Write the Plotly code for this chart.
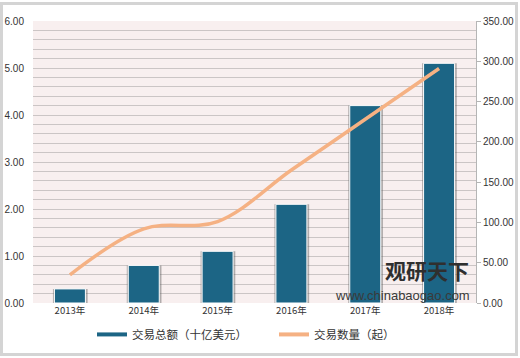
import plotly.graph_objects as go

years = ["2013年", "2014年", "2015年", "2016年", "2017年", "2018年"]
amount = [0.3, 0.8, 1.1, 2.1, 4.2, 5.1]          # 交易总额（十亿美元）
count = [35, 92, 101, 165, 228, 291]              # 交易数量（起）
left_ticks = [0, 1, 2, 3, 4, 5, 6]
right_ticks = [0, 50, 100, 150, 200, 250, 300, 350]

BAR = "#1c6585"
LINE = "#f5b183"
W, H = 520, 358
ML, MR, MT, MB = 33, 44, 21, 55
PW, PH = W - ML - MR, H - MT - MB

font_num = "Liberation Sans, Arial, sans-serif"
font_cjk = "Noto Sans CJK SC, sans-serif"

fig = go.Figure()
# soft shadow behind bars
fig.add_trace(go.Bar(x=years, y=amount, width=0.47, offset=-0.23,
                     marker=dict(color="rgba(90,90,90,0.45)", line=dict(width=0)),
                     showlegend=False, hoverinfo="skip"))
fig.add_trace(go.Bar(x=years, y=amount, width=0.42, offset=-0.21,
                     marker=dict(color=BAR, line=dict(color="white", width=1)),
                     name="交易总额（十亿美元）", showlegend=False))
fig.add_trace(go.Scatter(x=years, y=count, yaxis="y2", mode="lines",
                         line=dict(color=LINE, width=3.5, shape="spline", smoothing=1.0),
                         name="交易数量（起）", showlegend=False))
# legend entries (line symbols)
fig.add_trace(go.Scatter(x=[None], y=[None], mode="lines", line=dict(color=BAR, width=4),
                         name="交易总额（十亿美元）"))
fig.add_trace(go.Scatter(x=[None], y=[None], mode="lines", line=dict(color=LINE, width=4),
                         name="交易数量（起）", yaxis="y2"))

fig.update_layout(
    width=W, height=H,
    margin=dict(l=ML, r=MR, t=MT, b=MB, autoexpand=False),
    paper_bgcolor="white",
    plot_bgcolor="#f8efef",
    barmode="overlay",
    showlegend=True,
    legend=dict(orientation="h", x=(92 - ML) / PW, xanchor="left", y=-0.06, yanchor="top",
                font=dict(family=font_cjk, size=11.5, color="#333"),
                entrywidth=137, bgcolor="rgba(0,0,0,0)"),
    xaxis=dict(type="category", showgrid=False, showline=False, ticks="", automargin=False,
               tickfont=dict(family=font_cjk, size=9.5, color="#333")),
    yaxis=dict(range=[0, 6], tickvals=left_ticks, tickformat=".2f", automargin=False,
               showgrid=True, gridcolor="#cbc5c5", gridwidth=1,
               minor=dict(dtick=0.2, showgrid=True, gridcolor="#cbc5c5", gridwidth=1),
               zeroline=False, showline=False, ticks="", ticklabelstandoff=8,
               tickfont=dict(family=font_num, size=10, color="#333")),
    yaxis2=dict(range=[0, 350], tickvals=right_ticks, tickformat=".2f", overlaying="y",
                side="right", showgrid=False, zeroline=False, showline=True, automargin=False,
                linecolor="#b5b5b5", linewidth=1, ticks="outside", ticklen=4,
                tickcolor="#b5b5b5", tickfont=dict(family=font_num, size=10, color="#333")),
    shapes=[dict(type="rect", xref="paper", yref="paper",
                 x0=(1.5 - ML) / PW, x1=(W - 3.5 - ML) / PW,
                 y0=-(H - 3.5 - PH - MT) / PH, y1=1 + (MT - 3.5) / PH,
                 line=dict(color="#d4d4d4", width=3), layer="below")],
    annotations=[
        dict(text="<b>观研天下</b>", xref="paper", yref="paper",
             x=(471 - ML) / PW, y=1 - (270 - MT) / PH, xanchor="right", yanchor="middle",
             showarrow=False, font=dict(family=font_cjk, size=21, color="#2f2f2f")),
        dict(text="www.chinabaogao.com", xref="paper", yref="paper",
             x=(472 - ML) / PW, y=1 - (295 - MT) / PH, xanchor="right", yanchor="middle",
             showarrow=False, font=dict(family="Liberation Sans, Arial, sans-serif", size=13, color="#3a3a3a")),
    ],
)

fig.write_html("out.html", config={"displayModeBar": False},
               post_script="document.body.style.margin='0';document.body.style.overflow='hidden';")
